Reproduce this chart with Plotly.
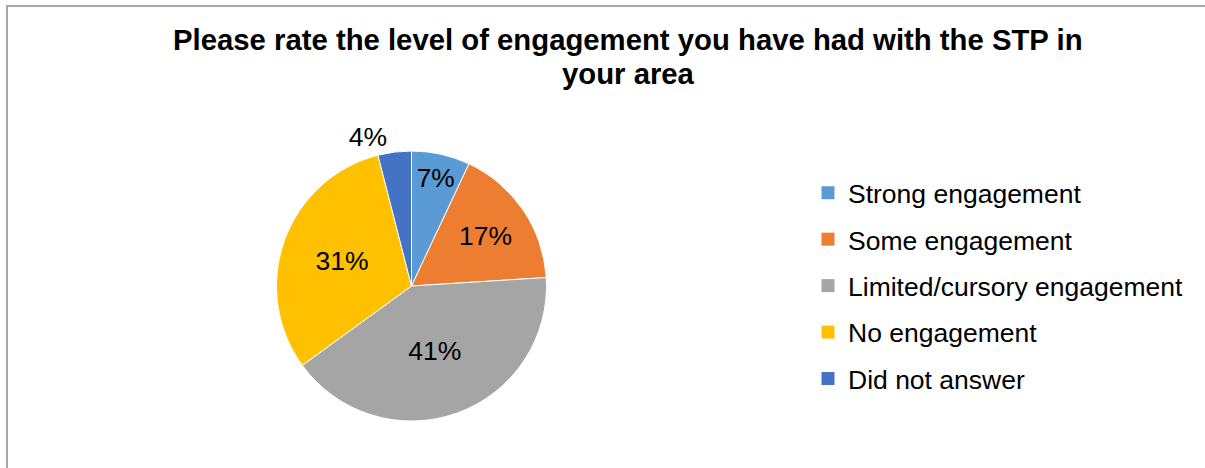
import plotly.graph_objects as go

# Survey responses: engagement with the STP
categories = [
    "Strong engagement",
    "Some engagement",
    "Limited/cursory engagement",
    "No engagement",
    "Did not answer",
]
shares = [7, 17, 41, 31, 4]
colors = ["#5B9BD5", "#ED7D31", "#A5A5A5", "#FFC000", "#4472C4"]
label_positions = ["inside", "inside", "inside", "inside", "outside"]
title_lines = [
    "Please rate the level of engagement you have had with the STP in",
    "your area",
]

W, H = 1205, 468
FONT = "Liberation Sans, Arial, sans-serif"

# pie geometry in pixels
cx, cy, r = 411.5, 286, 135

fig = go.Figure()

fig.add_trace(go.Pie(
    labels=categories,
    values=shares,
    sort=False,
    direction="clockwise",
    rotation=0,
    marker=dict(colors=colors, line=dict(color="white", width=1)),
    textinfo="percent",
    texttemplate="%{value}%",
    textposition=label_positions,
    insidetextorientation="horizontal",
    textfont=dict(family=FONT, size=26.5, color="black"),
    showlegend=False,
    hoverinfo="label+percent",
    domain=dict(x=[(cx - r) / W, (cx + r) / W], y=[(H - cy - r) / H, (H - cy + r) / H]),
))

# legend entries, one group each so their spacing can be set
for name, col in zip(categories, colors):
    fig.add_trace(go.Scatter(
        x=[None], y=[None], mode="markers", name=name,
        marker=dict(symbol="square", size=13, color=col),
        legendgroup=name, showlegend=True, hoverinfo="skip",
    ))

# two-line bold title, baselines at 52px and 86px
title_annotations = [
    dict(
        text=f"<b>{line}</b>", xref="paper", yref="paper",
        x=628 / W, xanchor="center", y=1 - base / H, yanchor="bottom",
        showarrow=False, font=dict(family=FONT, size=29.3, color="black"),
    )
    for line, base in zip(title_lines, [58, 92])
]

fig.update_layout(
    width=W, height=H,
    margin=dict(l=0, r=0, t=0, b=0),
    paper_bgcolor="white", plot_bgcolor="white",
    font=dict(family=FONT, color="black"),
    annotations=title_annotations,
    xaxis=dict(visible=False), yaxis=dict(visible=False),
    legend=dict(
        x=808 / W, xanchor="left", y=1 - 169 / H, yanchor="top",
        font=dict(family=FONT, size=26.5, color="black"),
        tracegroupgap=9, itemsizing="trace", bgcolor="rgba(0,0,0,0)",
    ),
    shapes=[dict(
        type="rect", xref="paper", yref="paper",
        x0=7 / W, x1=1.02, y0=-0.02, y1=1 - 6 / H,
        line=dict(color="#A6A6A6", width=2),
    )],
)

fig.write_html("out.html")
